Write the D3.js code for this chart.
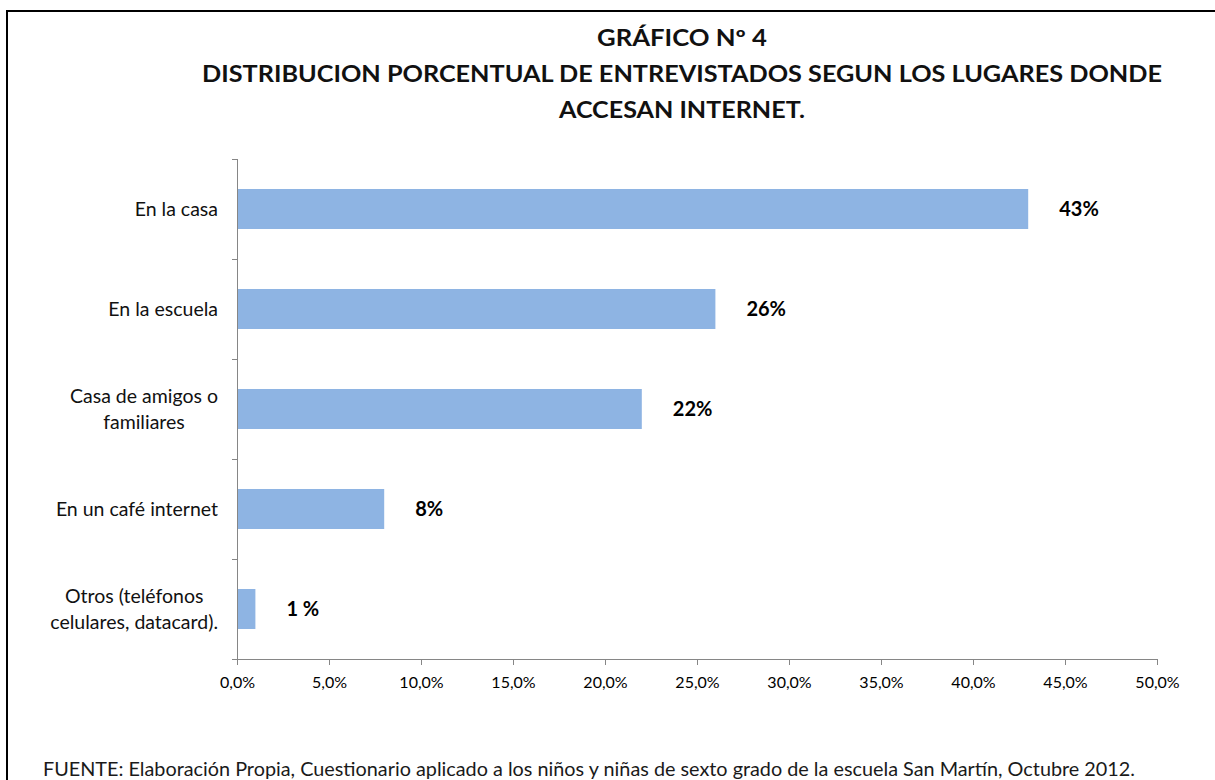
<!DOCTYPE html>
<html>
<head>
<meta charset="utf-8">
<script src="https://cdn.jsdelivr.net/npm/d3@7"></script>
<style>
  body { margin: 0; background: #fff; }
  svg { display: block; font-family: Lato, "Noto Sans", sans-serif; }
</style>
</head>
<body>
<div id="chart"></div>
<script>
// chart data
const categories = [
  'En la casa',
  'En la escuela',
  'Casa de amigos o\nfamiliares',
  'En un café internet',
  'Otros (teléfonos\ncelulares, datacard).'
];
const values = [43, 26, 22, 8, 1];
const valueLabels = ['43%', '26%', '22%', '8%', '1 %'];
const xTicks = [0, 5, 10, 15, 20, 25, 30, 35, 40, 45, 50];
const titleLines = [
  'GRÁFICO Nº 4',
  'DISTRIBUCION PORCENTUAL DE ENTREVISTADOS SEGUN LOS LUGARES DONDE',
  'ACCESAN INTERNET.'
];
const footer = 'FUENTE: Elaboración Propia,  Cuestionario aplicado a los niños y niñas de sexto grado de la escuela San Martín, Octubre 2012.';

const W = 1215, H = 780;
const margin = { top: 159, left: 237, right: 58, bottom: 121 };
const axisColor = '#868686';

const svg = d3.select('#chart').append('svg')
  .attr('width', W)
  .attr('height', H);

// outer frame (runs past the right and bottom edges)
svg.append('rect')
  .attr('x', 7).attr('y', 11)
  .attr('width', 1400).attr('height', 1000)
  .attr('fill', 'none')
  .attr('stroke', '#000')
  .attr('stroke-width', 2);

// title
const titleWidths = [170, 960, 246];
svg.append('g').selectAll('text')
  .data(titleLines)
  .join('text')
  .attr('x', 682)
  .attr('y', (d, i) => 46 + i * 36)
  .attr('text-anchor', 'middle')
  .style('font-size', '22px')
  .style('font-weight', 'bold')
  .style('fill', '#111')
  .attr('textLength', (d, i) => titleWidths[i])
  .attr('lengthAdjust', 'spacingAndGlyphs')
  .text(d => d);

const x = d3.scaleLinear()
  .domain([0, 50])
  .range([margin.left, W - margin.right]);

const y = d3.scaleBand()
  .domain(categories)
  .range([margin.top, H - margin.bottom])
  .paddingInner(0.6)
  .paddingOuter(0.3);

const g = svg.append('g');

// bars
g.selectAll('rect.bar')
  .data(values)
  .join('rect')
  .attr('class', 'bar')
  .attr('x', x(0))
  .attr('y', (d, i) => y(categories[i]))
  .attr('width', d => x(d) - x(0))
  .attr('height', y.bandwidth())
  .attr('fill', '#8EB4E3');

// value labels
g.selectAll('text.val')
  .data(values)
  .join('text')
  .attr('class', 'val')
  .attr('x', d => x(d) + 31)
  .attr('y', (d, i) => y(categories[i]) + y.bandwidth() / 2)
  .attr('dy', '0.35em')
  .style('font-size', '20px')
  .style('font-weight', 'bold')
  .style('fill', '#000')
  .text((d, i) => valueLabels[i]);

// x axis
const xAxis = d3.axisBottom(x)
  .tickValues(xTicks)
  .tickSize(6)
  .tickPadding(12)
  .tickFormat(d => d3.format('.1f')(d).replace('.', ',') + '%');

const xg = svg.append('g')
  .attr('transform', `translate(0,${H - margin.bottom})`)
  .call(xAxis);
xg.select('.domain').attr('stroke', axisColor).attr('d', `M${x(0)},0.5H${x(50)}`);
xg.selectAll('.tick line').attr('stroke', axisColor);
xg.selectAll('.tick text')
  .style('font-size', '16px')
  .style('fill', '#000')
  .style('font-family', 'Lato, "Noto Sans", sans-serif');

// y axis line with ticks at band boundaries
const step = y.step();
const yBounds = d3.range(categories.length + 1).map(i => margin.top + i * step);
svg.append('line')
  .attr('x1', x(0) + 0.5).attr('x2', x(0) + 0.5)
  .attr('y1', margin.top).attr('y2', H - margin.bottom)
  .attr('stroke', axisColor);
svg.append('g').selectAll('line')
  .data(yBounds)
  .join('line')
  .attr('x1', x(0) - 5).attr('x2', x(0))
  .attr('y1', d => d + 0.5).attr('y2', d => d + 0.5)
  .attr('stroke', axisColor);

// category labels, wrapped lines centred in a right-aligned block
const labelRight = 218;
const lineH = 26;
categories.forEach(cat => {
  const lines = cat.split('\n');
  const cy = y(cat) + y.bandwidth() / 2;
  const t = svg.append('text')
    .attr('text-anchor', 'middle')
    .style('font-size', '19.5px')
    .style('fill', '#111');
  lines.forEach((ln, j) => {
    t.append('tspan')
      .attr('y', cy + (j - (lines.length - 1) / 2) * lineH)
      .attr('dy', '0.35em')
      .text(ln);
  });
  let maxW = 0;
  t.selectAll('tspan').each(function () {
    maxW = Math.max(maxW, this.getComputedTextLength());
  });
  t.selectAll('tspan').attr('x', labelRight - maxW / 2);
});

// source note
svg.append('text')
  .attr('x', 43)
  .attr('y', 776)
  .style('font-size', '19px')
  .style('fill', '#1a1a1a')
  .attr('textLength', 1092)
  .attr('lengthAdjust', 'spacingAndGlyphs')
  .text(footer);
</script>
</body>
</html>
